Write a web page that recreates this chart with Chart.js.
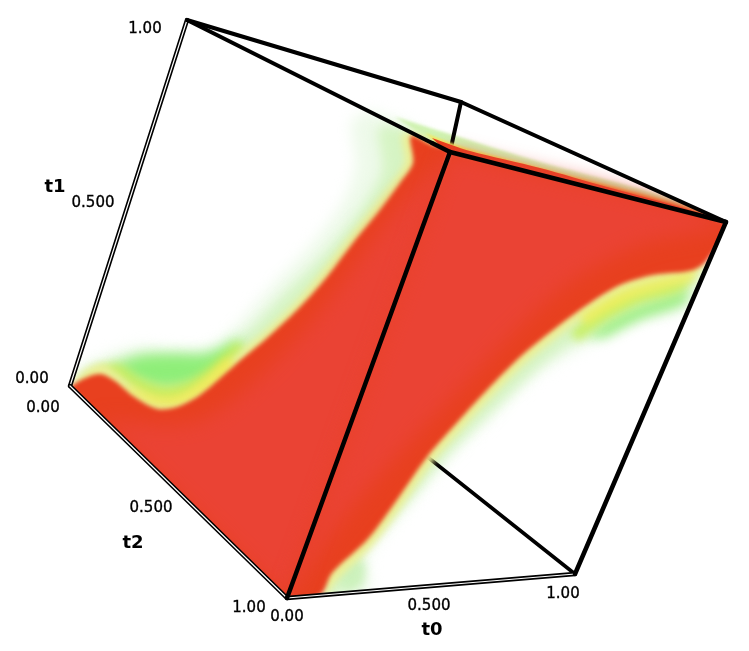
<!DOCTYPE html>
<html lang="en">
  <head>
    <meta charset="UTF-8" />
    <title>t0 t1 t2 volume</title>
    <style type="text/css">
      body {
        background-color: #ffffff;
        margin: 0;
      }
      #volume {
        display: block;
      }
    </style>
  </head>
  <body>
    <canvas id="volume" width="749" height="651"></canvas>

    <script src="https://cdn.jsdelivr.net/npm/chart.js@4/dist/chart.umd.js"></script>
    <script type="text/javascript">
      // cube corners
      const origin = [70, 386];
      const t1End = [187, 20];
      const t2End = [287, 598];
      const t0End = [575, 574];
      const backTop = [461, 102];
      const frontTop = [450, 152];
      const rightTop = [726, 222];
      const hiddenEnd = [425, 455];
      const topBend = [432, 143];

      const hull = [origin, t1End, backTop, rightTop, t0End, t2End];

      // left face bands
      const leftHalo = [[72, 382], [84, 366], [133, 347], [173, 349], [207, 348], [230, 332], [272, 286], [311, 245], [343, 202], [356, 165], [352, 122], [372, 112], [432, 143], [440, 220], [220, 440]];
      const leftPale = [[71, 385], [90, 368], [130, 358], [175, 358], [208, 358], [240, 338], [284, 294], [326, 252], [362, 207], [382, 170], [380, 127], [432, 143], [440, 220], [220, 440]];
      const leftGreen = [[112, 368], [140, 356], [175, 354], [205, 354], [226, 346], [240, 338], [232, 360], [200, 382], [160, 388], [130, 378]];
      const leftLime = [[98, 368], [118, 364], [140, 378], [165, 386], [190, 380], [215, 362], [238, 342], [244, 352], [215, 382], [180, 400], [150, 398], [125, 384], [105, 374]];
      const leftYellow = [[71, 386], [85, 370], [102, 364], [118, 374], [136, 389], [160, 401], [178, 399], [198, 387], [224, 365], [240, 351], [263, 333], [296, 302], [322, 272], [348, 239], [375, 205], [395, 179], [405, 162], [403, 134], [432, 143], [440, 220], [220, 440]];
      const leftStrong = [[125, 383], [145, 392], [165, 396], [185, 392], [208, 376], [228, 358], [234, 364], [210, 388], [180, 404], [155, 404], [132, 392]];
      const leftRed = [[70, 387], [83, 379], [100, 374], [115, 381], [133, 396], [157, 409], [177, 407], [200, 395], [227, 372], [243, 358], [267, 338], [300, 307], [327, 277], [353, 243], [380, 210], [400, 183], [413, 163], [411, 136], [432, 145], [450, 152], [287, 600], [70, 388]];
      const leftCore = [[100, 420], [200, 420], [300, 335], [400, 205], [445, 165], [287, 600]];

      // right face bands
      const rightHalo = [[712, 262], [692, 306], [637, 320], [587, 345], [537, 375], [487, 422], [447, 460], [415, 498], [385, 533], [368, 558], [368, 592], [320, 597], [330, 400], [500, 260]];
      const rightPale = [[706, 268], [682, 296], [637, 306], [590, 332], [545, 362], [495, 408], [450, 452], [420, 487], [388, 522], [360, 552], [352, 584], [322, 596], [330, 400], [500, 260]];
      const rightGreen = [[585, 338], [605, 322], [630, 308], [665, 296], [688, 290], [684, 304], [640, 320], [605, 338]];
      const rightSpot = [[336, 575], [350, 560], [364, 562], [362, 585], [345, 592]];
      const rightLime = [[570, 332], [590, 316], [615, 300], [650, 288], [690, 280], [680, 292], [640, 304], [605, 322], [578, 342]];
      const rightYellow = [[708, 262], [695, 275], [655, 282], [622, 292], [590, 312], [557, 337], [524, 364], [491, 397], [457, 434], [431, 464], [397, 513], [371, 547], [337, 580], [324, 596], [330, 400], [500, 260]];
      const rightStrong = [[695, 272], [660, 279], [625, 289], [595, 306], [580, 318], [586, 324], [605, 313], [635, 298], [665, 289], [695, 280]];
      const rightRed = [[450, 152], [726, 222], [709, 258], [693, 270], [653, 275], [620, 285], [587, 305], [553, 330], [520, 357], [487, 390], [453, 427], [427, 457], [392, 507], [367, 540], [332, 573], [320, 595], [287, 600]];
      const rightCore = [[450, 152], [726, 222], [640, 245], [560, 290], [450, 400], [350, 510], [287, 600]];

      // thin wedge above the top right edge
      const sliverHalo = [[395, 117], [450, 134], [540, 162], [607, 180], [673, 199], [726, 222], [450, 155]];
      const sliverYellow = [[425, 133], [460, 146], [507, 159], [607, 185], [673, 203], [726, 222], [450, 155]];
      const sliverRed = [[432, 138], [470, 151], [540, 168], [607, 187], [673, 205], [726, 222], [450, 155]];

      const tickLabels = ["0.00", "0.500", "1.00"];
      const axisNames = ["t0", "t1", "t2"];
      const t0TickSpots = [[287, 617], [429, 606], [563, 594]];
      const t1TickSpots = [[32, 379], [93, 203], [145, 29]];
      const t2TickSpots = [[43, 408], [151, 508], [249, 608]];
      const axisNameSpots = [[432, 630], [55, 187], [133, 543]];

      const toPoints = (pairs) => pairs.map(([x, y]) => ({ x, y }));

      const band = (pairs, color, soft) => ({
        data: toPoints(pairs),
        backgroundColor: color,
        borderColor: "transparent",
        borderWidth: 0,
        tension: 0.3,
        soft,
      });

      const edge = (from, to, width, color) => ({
        data: toPoints([from, to]),
        borderColor: color || "#000000",
        borderWidth: width,
        borderCapStyle: "round",
      });

      // two black hairlines with a white gap
      const doubleEdge = (from, to) => [edge(from, to, 4.4), edge(from, to, 1.2, "#ffffff")];

      // listed bottom to top, reversed below since chart.js paints index 0 last
      const layers = [
        band(leftHalo, "#eefaea", 7),
        band(rightHalo, "#eefaea", 7),
        band(sliverHalo, "#cff2b0", 1.6),
        band(leftPale, "#d6f4c4", 6),
        band(rightPale, "#d6f4c4", 6),
        band(leftGreen, "#8eee78", 7),
        band(rightGreen, "#a0ef88", 6),
        band(rightSpot, "#ccf1bc", 5),
        edge(t0End, hiddenEnd, 3.6),
        edge(backTop, frontTop, 4),
        band(leftLime, "rgba(200, 236, 90, 0.9)", 5),
        band(rightLime, "rgba(200, 238, 95, 0.9)", 5),
        band(sliverYellow, "#f0ea60", 0.8),
        band(leftYellow, "#ecef96", 3.5),
        band(rightYellow, "#ecef96", 3.5),
        band(leftStrong, "rgba(243, 234, 70, 0.8)", 4),
        band(rightStrong, "rgba(243, 238, 80, 0.8)", 4),
        band(sliverRed, "#e83f1e", 0.5),
        band(leftRed, "#e8401f", 2.2),
        band(rightRed, "#e8401f", 2.2),
        band(leftCore, "#ea4334", 10),
        band(rightCore, "#ea4334", 10),
        ...doubleEdge(origin, t1End),
        ...doubleEdge(origin, t2End),
        ...doubleEdge(t2End, t0End),
        edge(t1End, backTop, 4),
        edge(t1End, topBend, 4),
        edge(topBend, frontTop, 4.5),
        edge(backTop, rightTop, 4),
        edge(frontTop, rightTop, 4.5),
        edge(frontTop, t2End, 4.5),
        edge(rightTop, t0End, 4.5),
      ].reverse();

      const softBands = {
        id: "softBands",
        beforeDatasetDraw(chart, args) {
          const dataset = chart.data.datasets[args.index];
          if (dataset.soft === undefined) return;
          const { ctx, scales } = chart;
          ctx.save();
          ctx.beginPath();
          hull.forEach(([x, y]) => ctx.lineTo(scales.x.getPixelForValue(x), scales.y.getPixelForValue(y)));
          ctx.closePath();
          ctx.clip();
          ctx.filter = "blur(" + dataset.soft + "px)";
          ctx.fillStyle = dataset.backgroundColor;
          ctx.beginPath();
          args.meta.dataset.path(ctx);
          ctx.closePath();
          ctx.fill();
          ctx.restore();
        },
      };

      const cubeLabels = {
        id: "cubeLabels",
        afterDatasetsDraw(chart) {
          const { ctx, scales } = chart;
          ctx.save();
          ctx.fillStyle = "#000000";
          ctx.strokeStyle = "#000000";
          ctx.lineWidth = 0.35;
          ctx.textAlign = "center";
          ctx.textBaseline = "middle";
          ctx.font = '15px "DejaVu Sans"';
          [t0TickSpots, t1TickSpots, t2TickSpots].forEach((spots) => {
            spots.forEach(([x, y], i) => {
              const px = scales.x.getPixelForValue(x);
              const py = scales.y.getPixelForValue(y);
              ctx.fillText(tickLabels[i], px, py);
              ctx.strokeText(tickLabels[i], px, py);
            });
          });
          ctx.font = 'bold 18px "DejaVu Sans"';
          axisNameSpots.forEach(([x, y], i) => {
            ctx.fillText(axisNames[i], scales.x.getPixelForValue(x), scales.y.getPixelForValue(y));
          });
          ctx.restore();
        },
      };

      new Chart("volume", {
        type: "scatter",
        data: { datasets: layers },
        options: {
          responsive: false,
          animation: false,
          layout: { padding: 0 },
          plugins: { legend: { display: false }, tooltip: { enabled: false } },
          elements: { point: { radius: 0 } },
          datasets: { scatter: { showLine: true, clip: false } },
          scales: {
            x: { type: "linear", min: 0, max: 749, display: false },
            y: { type: "linear", min: 0, max: 651, reverse: true, display: false },
          },
        },
        plugins: [softBands, cubeLabels],
      });
    </script>
  </body>
</html>
